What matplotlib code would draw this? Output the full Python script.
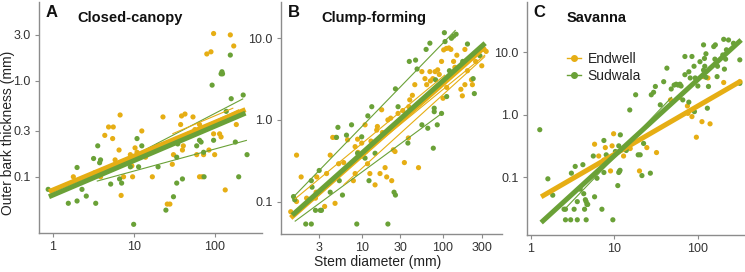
import numpy as np
import matplotlib
matplotlib.use("Agg")
import matplotlib.pyplot as plt

ORANGE = "#E6AE14"
GREEN = "#6AA137"

# ---------------- Panel A: Closed-canopy ----------------
a_end_x = [97, 156, 172, 80, 90, 6.8, 23, 39, 43, 54, 4.9, 5.6, 4.4, 5.5, 12.6, 38, 65, 185,
           97, 115, 120, 41, 40, 31, 6.6, 5.9, 9.1, 10.4, 9.5, 9.7, 7.5, 3.3, 3.9, 2.9, 1.8,
           7.0, 17, 30, 26, 28, 65, 70, 135, 60, 73, 100, 85, 57, 11, 14, 20, 48]
a_end_y = [3.1, 3.0, 2.3, 1.9, 2.0, 0.44, 0.42, 0.43, 0.45, 0.42, 0.33, 0.33, 0.27, 0.25, 0.30,
           0.35, 0.35, 0.35, 0.28, 0.28, 0.26, 0.21, 0.19, 0.17, 0.19, 0.15, 0.17, 0.20, 0.13,
           0.10, 0.10, 0.11, 0.10, 0.10, 0.10, 0.064, 0.10, 0.135, 0.052, 0.052, 0.10, 0.10,
           0.073, 0.17, 0.17, 0.17, 0.19, 0.31, 0.18, 0.16, 0.21, 0.28]
a_sud_x = [0.88, 1.56, 2.0, 2.0, 2.3, 2.6, 3.2, 3.4, 3.6, 3.8, 3.9, 5.2, 6.7, 7.1, 10, 11, 12.6,
           11.5, 9.1, 20, 25, 31, 34, 34, 35, 40, 60, 65, 68, 73, 74, 97, 93, 123, 125, 120,
           156, 160, 139, 180, 198, 225, 251]
a_sud_y = [0.074, 0.053, 0.056, 0.125, 0.074, 0.063, 0.155, 0.053, 0.21, 0.14, 0.15, 0.084,
           0.095, 0.086, 0.032, 0.25, 0.21, 0.127, 0.127, 0.127, 0.045, 0.062, 0.086, 0.16,
           0.22, 0.095, 0.21, 0.24, 0.23, 0.18, 0.10, 0.24, 0.9, 1.24, 1.18, 1.18, 1.85, 0.65,
           0.48, 0.23, 0.10, 0.71, 0.17]
# fitted lines: (x_start, x_end, y_start, y_end, colour key, thick?)
a_fits = [
    (0.9, 240, 0.070, 0.50, "E", True),
    (0.9, 240, 0.062, 0.46, "S", True),
    (3.5, 225, 0.105, 0.65, "S", False),
    (3.5, 250, 0.090, 0.24, "S", False),
    (2.5, 200, 0.090, 0.50, "E", False),
    (30, 170, 0.28, 0.52, "E", False),
]

# ---------------- Panel B: Clump-forming ----------------
b_end_x = [1.34, 1.58, 1.8, 1.58, 2.1, 2.7, 2.75, 2.8, 3.5, 4.1, 4.4, 4.7, 3.7, 4.8, 5.2, 6.7,
           7.9, 8.3, 8.3, 8.9, 10, 10.3, 11, 11.2, 11.8, 12.6, 14.6, 15.3, 15.6, 16.8, 17.6,
           19.4, 20.3, 21, 22.7, 23.4, 24.5, 25.7, 33.5, 37.5, 38, 39, 45, 50, 55, 60, 63, 69,
           75, 80, 86, 90, 96, 102, 110, 118, 125, 100, 111, 135, 148, 166, 173, 186, 186,
           224, 230, 252, 300, 314, 340, 6, 9, 13, 18, 28, 32, 42, 70, 140, 200]
b_end_y = [0.075, 0.37, 0.20, 0.10, 0.11, 0.11, 0.13, 0.20, 0.087, 0.37, 0.61, 0.095, 0.22,
           0.61, 0.29, 0.57, 0.18, 0.22, 0.47, 0.58, 0.52, 0.36, 0.87, 0.41, 0.29, 0.22, 0.16,
           0.75, 0.83, 0.22, 1.33, 0.26, 0.20, 1.0, 1.05, 0.18, 0.43, 0.41, 0.30, 0.60, 1.45,
           1.76, 2.7, 0.26, 3.9, 3.2, 2.7, 3.9, 3.2, 3.9, 4.1, 3.6, 5.2, 7.2, 7.5, 7.6, 7.3,
           1.84, 2.5, 5.2, 6.2, 2.37, 1.97, 7.3, 2.7, 3.1, 2.7, 5.2, 4.6, 7.3, 6.9, 0.30, 0.40,
           0.55, 0.70, 1.2, 1.3, 2.0, 3.0, 4.4, 4.0]
b_sud_x = [1.45, 1.5, 2.05, 2.4, 2.4, 2.45, 2.7, 3.1, 3.2, 3.0, 4.1, 4.9, 5.1, 5.3, 5.8, 6.5,
           7.5, 8.7, 8.9, 10, 11, 11.9, 13.3, 12.3, 14.6, 21, 25, 26, 26, 28, 37, 38.5, 46,
           48, 55, 65, 62, 69, 76, 78, 78, 81, 85, 96, 104, 106, 111, 127, 135, 145, 175,
           200, 235, 243, 285, 120]
b_sud_y = [0.115, 0.105, 0.053, 0.053, 0.18, 0.15, 0.078, 0.078, 0.078, 0.24, 0.13, 0.61,
           0.81, 0.18, 0.12, 0.65, 0.87, 0.053, 0.39, 0.62, 0.34, 1.12, 1.45, 0.18, 0.39,
           0.053, 0.13, 0.12, 2.4, 1.45, 0.52, 5.2, 5.4, 4.2, 0.87, 0.79, 7.3, 8.7, 0.45,
           1.39, 1.26, 3.1, 0.87, 1.2, 11.7, 9.1, 1.93, 10.0, 10.6, 11.2, 5.2, 8.5, 3.2, 2.1,
           6.1, 4.0]
b_fits = [
    (1.34, 330, 0.063, 7.9, "E", True),
    (1.4, 330, 0.068, 8.7, "S", True),
    (1.4, 143, 0.11, 12.6, "S", False),
    (1.5, 100, 0.057, 1.23, "S", False),
    (1.5, 106, 0.107, 3.56, "E", False),
    (11, 330, 0.39, 6.25, "E", False),
    (6, 330, 0.16, 6.0, "E", False),
    (3, 150, 0.12, 4.5, "E", False),
]

# ---------------- Panel C: Savanna ----------------
c_end_x = [9.8, 5.8, 7.8, 9.4, 6.5, 7.5, 7.7, 9.0, 12.9, 15.5, 24.5, 32, 20, 47, 75, 76, 85,
           96, 112, 140, 117, 132, 204, 320, 60]
c_end_y = [0.50, 0.34, 0.30, 0.32, 0.22, 0.19, 0.18, 0.127, 0.22, 0.29, 0.30, 0.25, 0.127,
           1.74, 1.39, 1.06, 0.94, 0.44, 0.78, 0.72, 4.1, 3.9, 3.3, 3.4, 1.9]
c_sud_x = [1.28, 1.6, 1.83, 2.5, 2.6, 2.6, 3.0, 3.6, 4.6, 3.06, 3.4, 3.3, 3.6, 3.9, 4.2, 4.3,
           4.5, 4.6, 4.7, 4.8, 4.4, 5.8, 5.6, 6.2, 7.1, 7.5, 7.5, 8.0, 9.6, 10.3, 11, 11.3,
           11.5, 11.7, 11.3, 11.8, 13.9, 15.3, 18, 19.3, 20.4, 21.4, 22.4, 27, 27.7, 29.5, 31,
           35.5, 39, 42.6, 48, 52, 55, 58, 61, 63, 66, 70, 70, 78, 81, 78, 85, 90, 93, 96, 91,
           100, 106, 117, 121, 125, 117, 120, 125, 130, 134, 155, 162, 160, 172, 170, 199,
           204, 220, 215, 233, 267, 318, 318, 208]
c_sud_y = [0.58, 0.095, 0.052, 0.031, 0.031, 0.021, 0.021, 0.021, 0.021, 0.117, 0.15, 0.031,
           0.041, 0.065, 0.16, 0.055, 0.044, 0.041, 0.037, 0.037, 0.031, 0.049, 0.22, 0.097,
           0.031, 0.39, 0.12, 0.23, 0.021, 0.26, 0.074, 0.12, 0.125, 0.13, 0.32, 0.48, 0.27,
           1.2, 2.1, 0.23, 0.23, 0.107, 0.35, 0.117, 2.1, 2.3, 2.85, 1.45, 3.4, 5.6, 2.6,
           3.0, 3.1, 3.0, 3.1, 2.9, 1.74, 4.4, 8.6, 4.9, 3.9, 1.6, 8.6, 6.0, 3.9, 3.6, 1.13,
           2.9, 7.1, 5.2, 6.0, 4.0, 13.2, 8.0, 9.5, 1.28, 2.85, 12.4, 13.2, 7.8, 6.0, 4.1,
           9.1, 16.2, 11.0, 7.8, 15.8, 14.0, 7.6, 3.2, 5.4]
c_fits = [
    (1.33, 330, 0.049, 3.5, "E", True),
    (1.33, 330, 0.019, 15.8, "S", True),
    (2.6, 49, 0.032, 1.94, "S", False),
]

panel_letters = ["A", "B", "C"]
panel_titles = ["Closed-canopy", "Clump-forming", "Savanna"]
site_names = ["Endwell", "Sudwala"]

x_ticks = [[1, 10, 100], [3, 10, 30, 100, 300], [1, 10, 100]]
x_ticklabels = [["1", "10", "100"], ["3", "10", "30", "100", "300"], ["1", "10", "100"]]
y_ticks = [[0.1, 0.3, 1.0, 3.0], [0.1, 1.0, 10.0], [0.1, 1.0, 10.0]]
y_ticklabels = [["0.1", "0.3", "1.0", "3.0"], ["0.1", "1.0", "10.0"], ["0.1", "1.0", "10.0"]]

xlims = [(0.678, 384), (1.017, 532), (0.9, 367)]
ylims = [(0.026, 6.6), (0.040, 27.8), (0.012, 64)]

# axes rectangles in pixels (left, right, bottom, top) on a 745x272 canvas
W, H = 745, 272
rects_px = [(39, 262, 233, 2), (281, 502, 234, 2), (527, 745, 235, 2)]
title_x = [0.41, 0.42, 0.32]

fig = plt.figure(figsize=(W / 100, H / 100), dpi=100)
plt.rcParams['font.family'] = ['Liberation Sans', 'DejaVu Sans']

data = [
    (a_end_x, a_end_y, a_sud_x, a_sud_y, a_fits),
    (b_end_x, b_end_y, b_sud_x, b_sud_y, b_fits),
    (c_end_x, c_end_y, c_sud_x, c_sud_y, c_fits),
]
cmap = {"E": ORANGE, "S": GREEN}

axes = []
for i, (l, r, b, t) in enumerate(rects_px):
    ax = fig.add_axes([l / W, 1 - b / H, (r - l) / W, (b - t) / H])
    axes.append(ax)
    ex, ey, sx, sy, fits = data[i]
    ax.set_xscale("log")
    ax.set_yscale("log")
    ax.scatter(ex, ey, s=14, color=ORANGE, edgecolors="none", zorder=2)
    ax.scatter(sx, sy, s=14, color=GREEN, edgecolors="none", zorder=2)
    for x0, x1, y0, y1, k, thick in sorted(fits, key=lambda f: f[5]):
        ax.plot([x0, x1], [y0, y1], color=cmap[k],
                lw=3.6 if thick else 0.8, solid_capstyle="butt",
                zorder=4 if thick else 3)
    ax.set_xlim(*xlims[i])
    ax.set_ylim(*ylims[i])
    ax.set_xticks(x_ticks[i])
    ax.set_xticklabels(x_ticklabels[i])
    ax.set_yticks(y_ticks[i])
    ax.set_yticklabels(y_ticklabels[i])
    ax.minorticks_off()
    for s in ["top", "right"]:
        ax.spines[s].set_visible(False)
    for s in ["left", "bottom"]:
        ax.spines[s].set_color("#8c8c8c")
        ax.spines[s].set_linewidth(1.0)
    ax.tick_params(axis="both", length=3, width=0.8, color="#8c8c8c",
                   labelsize=9, labelcolor="#333333", pad=3)
    ax.text(0.03, 0.985, panel_letters[i], transform=ax.transAxes, fontsize=12,
            fontweight="bold", va="top", ha="left", color="#111111")
    ax.text(title_x[i], 0.96, panel_titles[i], transform=ax.transAxes, fontsize=10.5,
            fontweight="bold", va="top", ha="center", color="#111111")

# legend in panel C
from matplotlib.lines import Line2D
handles = [Line2D([0], [0], color=ORANGE, lw=1, marker="o", markersize=4),
           Line2D([0], [0], color=GREEN, lw=1, marker="o", markersize=4)]
axes[2].legend(handles, site_names, loc="upper left", bbox_to_anchor=(0.125, 0.84),
               frameon=False, fontsize=10, handlelength=1.0, handletextpad=0.5,
               labelspacing=0.2, labelcolor="#222222")

fig.text(8 / W, 1 - 133 / H, "Outer bark thickness (mm)", rotation=90,
         ha="center", va="center", fontsize=10, color="#222222")
fig.text(378 / W, 1 - 262 / H, "Stem diameter (mm)", ha="center", va="center",
         fontsize=10, color="#222222")

fig.savefig("out.png", dpi=100)
